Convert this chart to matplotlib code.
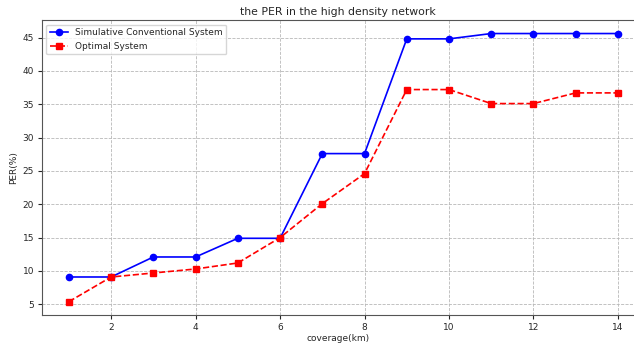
import matplotlib.pyplot as plt

coverage = list(range(1, 15))
conventional = [9.1, 9.1, 12.1, 12.1, 14.9, 14.9, 27.6, 27.6, 44.8, 44.8, 45.6, 45.6, 45.6, 45.6]
optimal = [5.4, 9.1, 9.7, 10.3, 11.2, 15.0, 20.1, 24.6, 37.2, 37.2, 35.1, 35.1, 36.7, 36.7]

TEXT = "#262626"
plt.rcParams["text.color"] = TEXT
plt.rcParams["xtick.color"] = TEXT
plt.rcParams["ytick.color"] = TEXT
plt.rcParams["axes.labelcolor"] = TEXT

fig = plt.figure(figsize=(6.34, 3.47), dpi=100)
ax = fig.add_axes([0.066, 0.092, 0.934, 0.850])

ax.plot(coverage, conventional, "b-o", markersize=4.5, linewidth=1.2,
        label="Simulative Conventional System")
ax.plot(coverage, optimal, "r--s", markersize=4.5, linewidth=1.2,
        label="Optimal System")

ax.set_xlim(0.36, 14.38)
ax.set_ylim(3.39, 47.61)
ax.set_xticks([2, 4, 6, 8, 10, 12, 14])
ax.set_yticks([5, 10, 15, 20, 25, 30, 35, 40, 45])
ax.tick_params(labelsize=6.5, length=3, pad=2.5)
ax.spines["right"].set_visible(False)
for s in ("left", "top", "bottom"):
    ax.spines[s].set_color("#555555")

ax.set_xlabel("coverage(km)", fontsize=6.5, labelpad=2)
ax.set_ylabel("PER(%)", fontsize=6.5, labelpad=3)
ax.set_title("the PER in the high density network", fontsize=7.8, pad=4)
ax.grid(True, linestyle="--", color="#b8b8b8", linewidth=0.6)
ax.legend(loc="upper left", fontsize=6.5)

fig.savefig("out.png", dpi=100)
